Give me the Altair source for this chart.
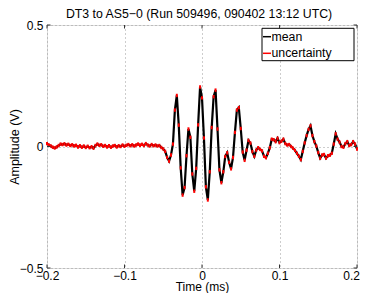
import altair as alt
import pandas as pd

TITLE = "DT3 to AS5\u22120 (Run 509496, 090402 13:12 UTC)"
T_START = -0.2
T_STEP = 0.0025
mean_v = [
    0.012, 0.006, 0.002, -0.003, -0.006, -0.002, 0.004, 0.010, 0.008, 0.011,
    0.006, 0.009, 0.004, 0.007, 0.002, 0.005, -0.002, 0.003, -0.003, 0.002,
    -0.004, 0.001, -0.005, -0.001, -0.007, 0.004, 0.010, 0.005, 0.007, 0.001,
    0.004, -0.002, 0.003, -0.003, 0.002, 0.004, -0.002, 0.003, 0.000, 0.006,
    0.001, 0.005, 0.008, 0.003, 0.007, 0.002, 0.006, 0.010, 0.005, 0.009,
    0.004, 0.012, 0.006, 0.002, 0.008, 0.003, 0.006, 0.002, 0.004, -0.004,
    -0.010, -0.020, -0.045, -0.060, -0.035, 0.010, 0.150, 0.210, 0.088, -0.088,
    -0.200, -0.169, -0.038, 0.072, 0.038, -0.113, -0.184, -0.090, 0.089, 0.245,
    0.200, 0.035, -0.166, -0.220, -0.104, 0.078, 0.205, 0.232, 0.072, -0.096,
    -0.149, -0.104, -0.041, -0.026, -0.065, -0.092, -0.045, 0.058, 0.150, 0.160,
    0.074, -0.023, -0.057, -0.015, 0.025, 0.014, -0.021, -0.040, -0.015, -0.005,
    -0.012, -0.018, -0.040, -0.046, -0.028, -0.005, 0.030, 0.028, 0.020, 0.034,
    0.016, 0.022, 0.030, 0.012, 0.006, 0.008, 0.000, -0.007, -0.016, -0.028,
    -0.040, -0.054, -0.020, 0.015, 0.045, 0.070, 0.085, 0.045, 0.020, 0.002,
    -0.025, -0.048, -0.035, -0.033, -0.048, -0.038, -0.036, -0.028, 0.010, 0.052,
    0.030, 0.018, 0.000, -0.003, 0.012, 0.020, 0.004, 0.008, 0.020, 0.010,
    -0.010,
]
UNC = 0.007  # half-height of the uncertainty bars (V)
x_ticks = [-0.2, -0.1, 0, 0.1, 0.2]
y_ticks = [-0.5, 0, 0.5]
legend_labels = ["mean", "uncertainty"]
legend_colors = ["#000000", "#ff0000"]

FONT = "Liberation Sans"
W, H = 310, 243

time = [round(T_START + i * T_STEP, 5) for i in range(len(mean_v))]
df = pd.DataFrame({"t": time, "v": mean_v})
df["lo"] = df["v"] - UNC
df["hi"] = df["v"] + UNC

xscale = alt.Scale(domain=[-0.2, 0.2], nice=False, zero=False)
yscale = alt.Scale(domain=[-0.5, 0.5], nice=False, zero=False)

last_x = "datum.value >= %s" % max(x_ticks)
xaxis = alt.Axis(values=x_ticks, format="~g", grid=True, gridDash=[1, 3],
                 gridColor="#9a9a9a", gridWidth=1, ticks=False, domain=False,
                 labelFlush=False, labelOverlap=False, labelPadding=2,
                 labelAlign={"condition": {"test": last_x, "value": "right"},
                             "value": "center"},
                 labelOffset={"condition": {"test": last_x, "value": 2.5},
                              "value": 0},
                 labelFont=FONT, labelFontSize=12, labelColor="#000",
                 title="Time (ms)", titleFont=FONT, titleFontSize=12,
                 titleFontWeight="normal", titleColor="#000",
                 titleBaseline="alphabetic", titleX=W / 2, titleY=22.3)
yaxis = alt.Axis(values=y_ticks, format="~g", grid=True, gridDash=[1, 3],
                 gridColor="#9a9a9a", gridWidth=1, ticks=False, domain=False,
                 labelFlush=False, labelOverlap=False, labelPadding=4,
                 labelFont=FONT, labelFontSize=12, labelColor="#000",
                 title="Amplitude (V)", titleFont=FONT, titleFontSize=12.5,
                 titleFontWeight="normal", titleColor="#000",
                 titleBaseline="alphabetic", titleX=-29, titleY=H / 2)

base = alt.Chart(df)
line = base.mark_line(color="#000000", strokeWidth=2.2).encode(
    x=alt.X("t:Q", scale=xscale, axis=xaxis),
    y=alt.Y("v:Q", scale=yscale, axis=yaxis),
)
unc = base.mark_rule(color="#ff0000", strokeWidth=2).encode(
    x=alt.X("t:Q", scale=xscale),
    y=alt.Y("lo:Q", scale=yscale),
    y2="hi:Q",
)

TL = 3.5
xt = pd.DataFrame({"x": x_ticks})
yt = pd.DataFrame({"y": y_ticks})
tick_color = "#333333"
ticks = [
    alt.Chart(xt).mark_rule(color=tick_color, strokeWidth=1).encode(
        x=alt.X("x:Q", scale=xscale), y=alt.value(H), y2=alt.value(H - TL)),
    alt.Chart(xt).mark_rule(color=tick_color, strokeWidth=1).encode(
        x=alt.X("x:Q", scale=xscale), y=alt.value(0), y2=alt.value(TL)),
    alt.Chart(yt).mark_rule(color=tick_color, strokeWidth=1).encode(
        y=alt.Y("y:Q", scale=yscale), x=alt.value(0), x2=alt.value(TL)),
    alt.Chart(yt).mark_rule(color=tick_color, strokeWidth=1).encode(
        y=alt.Y("y:Q", scale=yscale), x=alt.value(W), x2=alt.value(W - TL)),
]

one = pd.DataFrame({"k": [0]})

# chart title as a text mark above the plot area
title_layer = alt.Chart(one).mark_text(
    text=TITLE, align="center", baseline="alphabetic", font=FONT,
    fontSize=12.3, color="#000").encode(x=alt.value(W / 2 - 3), y=alt.value(-7.2))

# legend box (MATLAB style, inside top-right)
LX0, LX1, LY0, LY1 = 215, 307, 3.3, 35.7
legend_layers = [
    alt.Chart(one).mark_rect(fill="white", stroke="#000000", strokeWidth=1).encode(
        x=alt.value(LX0), x2=alt.value(LX1), y=alt.value(LY0), y2=alt.value(LY1))
]
for i, (lab, col) in enumerate(zip(legend_labels, legend_colors)):
    yy = 11.7 + 16.6 * i
    legend_layers.append(
        alt.Chart(one).mark_rule(color=col, strokeWidth=1.5).encode(
            x=alt.value(LX0 + 1), x2=alt.value(LX0 + 9), y=alt.value(yy)))
    legend_layers.append(
        alt.Chart(one).mark_text(text=lab, align="left", baseline="middle",
                                 font=FONT, fontSize=12.3, color="#000").encode(
            x=alt.value(LX0 + 9.5), y=alt.value(yy)))

chart = alt.layer(line, unc, *ticks, title_layer, *legend_layers).properties(
    width=W, height=H,
    autosize=alt.AutoSizeParams(type="none"),
    padding={"left": 39, "top": 17, "right": 3, "bottom": 25},
).configure_view(stroke="#333333", strokeWidth=1).configure(background="white")

chart.save("out.html", embed_options={"renderer": "svg", "actions": False})
